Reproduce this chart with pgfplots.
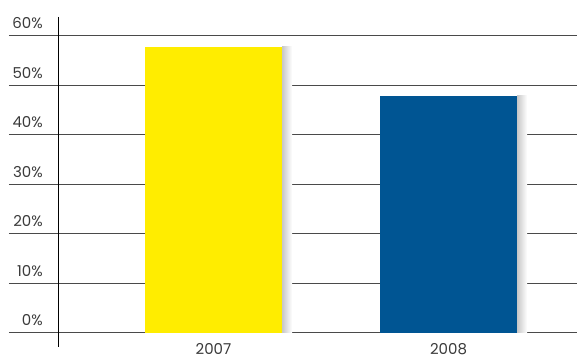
\documentclass[border=0pt]{standalone}
\usepackage{pgfplots}
\pgfplotsset{compat=1.18}
\usepackage{fontspec}
\setmainfont{Poppins}
\definecolor{barY}{HTML}{FFED00}
\definecolor{barB}{HTML}{005593}
\definecolor{txt}{HTML}{3A3A3A}
\definecolor{gridcol}{HTML}{4A4A4A}
\begin{document}
\begin{tikzpicture}[x=1pt,y=1pt]
\path[use as bounding box] (0,0) rectangle (577,358);
\begin{axis}[
  at={(9pt,25pt)}, anchor=south west,
  scale only axis, width=568pt, height=297pt,
  xmin=9, xmax=577, ymin=0, ymax=60,
  axis line style={draw=none},
  major tick length=0pt,
  ytick={0,10,20,30,40,50,60},
  yticklabels={0\%,10\%,20\%,30\%,40\%,50\%,60\%},
  xtick={213.5,448.5},
  xticklabels={2007,2008},
  ymajorgrids=true, xmajorgrids=false,
  y grid style={gridcol, line width=1pt},
  ticklabel style={font=\fontsize{15}{15}\selectfont, text=txt, inner sep=0pt},
  yticklabel style={anchor=base east, xshift=34pt, yshift=7pt},
  xticklabel style={anchor=base, yshift=-21.5pt},
  clip=false,
]
\addplot[ybar, bar width=10, bar shift=73.5, draw=none, left color=black!22, right color=white]
  coordinates {(213.5,57.8)};
\addplot[ybar, bar width=10, bar shift=73.5, draw=none, left color=black!22, right color=white]
  coordinates {(448.5,47.9)};
\addplot[ybar, bar width=137, bar shift=0, draw=none, fill=barY]
  coordinates {(213.5,57.8)};
\addplot[ybar, bar width=137, bar shift=0, draw=none, fill=barB]
  coordinates {(448.5,47.9)};
\end{axis}
\draw[black, line width=1pt] (58.5,341) -- (58.5,11);
\end{tikzpicture}
\end{document}
